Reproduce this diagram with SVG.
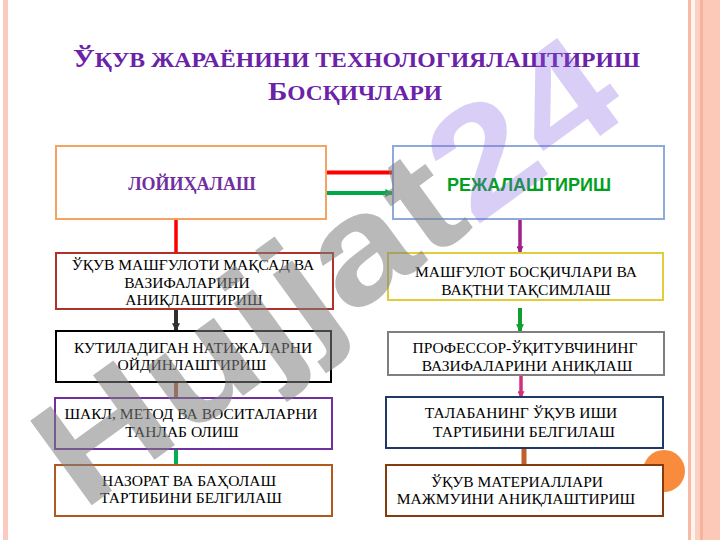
<svg xmlns="http://www.w3.org/2000/svg" width="720" height="540" viewBox="0 0 720 540">
<style>
.box{fill:#ffffff;stroke-width:2}
.t{font-family:"Liberation Serif","Times New Roman",serif;font-size:15.5px;fill:#000;text-anchor:middle}
.title{font-family:"Liberation Serif","Times New Roman",serif;font-weight:bold;fill:#6A22A8}
.c{fill:none;stroke-width:4}
</style>
<defs>
<marker id="ah" viewBox="0 0 6 6" refX="5" refY="3" markerWidth="2" markerHeight="2" orient="auto" markerUnits="strokeWidth"><path d="M0,0 L6,3 L0,6 z" fill="context-stroke"/></marker>
</defs>
<rect width="720" height="540" fill="#ffffff"/>
<g id="frame">
<rect x="3" y="0" width="5" height="540" fill="#FBC9BF"/>
<rect x="688" y="0" width="3" height="540" fill="#F9B9A6"/>
<rect x="691" y="0" width="4" height="540" fill="#FFF5EC"/>
<rect x="695" y="0" width="5" height="540" fill="#FCD0C2"/>
<rect x="700" y="0" width="3" height="540" fill="#F7B39C"/>
<rect x="703" y="0" width="17" height="540" fill="#FCC8B8"/>
</g>
<g id="title">
<text class="title" x="73" y="67" textLength="567" lengthAdjust="spacingAndGlyphs"><tspan font-size="25">Ў</tspan><tspan font-size="20">ҚУВ ЖАРАЁНИНИ ТЕХНОЛОГИЯЛАШТИРИШ</tspan></text>
<text class="title" x="268" y="100" textLength="174" lengthAdjust="spacingAndGlyphs"><tspan font-size="25">Б</tspan><tspan font-size="20">ОСҚИЧЛАРИ</tspan></text>
</g>
<circle id="deco" cx="664" cy="471" r="21" fill="#F98B3D"/>
<g id="connectors">
<line class="c" x1="327" y1="172.5" x2="393" y2="172.5" stroke="#FF0000"/>
<line class="c" x1="327" y1="193" x2="392" y2="193" stroke="#00A84A" marker-end="url(#ah)"/>
<line x1="176" y1="219" x2="176" y2="253" stroke="#FF0000" stroke-width="3.5"/>
<line class="c" x1="176" y1="309" x2="176" y2="330" stroke="#303030" marker-end="url(#ah)"/>
<line class="c" x1="176" y1="382" x2="176" y2="398" stroke="#B5603A"/>
<line class="c" x1="176" y1="449" x2="176" y2="465" stroke="#00B050"/>
<line x1="520" y1="219" x2="520" y2="252" stroke="#A0208A" stroke-width="3.5" marker-end="url(#ah)"/>
<line class="c" x1="520" y1="308" x2="520" y2="331" stroke="#109E2E" marker-end="url(#ah)"/>
<line x1="521" y1="375" x2="521" y2="397" stroke="#D0307A" stroke-width="3.5" marker-end="url(#ah)"/>
<line x1="524" y1="448" x2="524" y2="465" stroke="#C0602A" stroke-width="5"/>
</g>
<g id="n1">
<rect class="box" x="56" y="146" width="270" height="73" stroke="#F4A460"/>
<text x="192" y="190" font-family="'Liberation Serif','Times New Roman',serif" font-weight="bold" font-size="18" fill="#7030A0" text-anchor="middle">ЛОЙИҲАЛАШ</text>
</g>
<g id="n2">
<rect class="box" x="393" y="146" width="271" height="73" stroke="#8EA9DB"/>
<text x="529" y="191" font-family="'Liberation Sans',Arial,sans-serif" font-weight="bold" font-size="18" fill="#00A020" text-anchor="middle">РЕЖАЛАШТИРИШ</text>
</g>
<g id="n3">
<rect class="box" x="56" y="253" width="277" height="56" stroke="#B0302A"/>
<text class="t" x="193" y="270">ЎҚУВ МАШҒУЛОТИ МАҚСАД ВА</text>
<text class="t" x="187" y="288">ВАЗИФАЛАРИНИ</text>
<text class="t" x="194" y="305">АНИҚЛАШТИРИШ</text>
</g>
<g id="n4">
<rect class="box" x="56" y="331" width="275" height="51" stroke="#000000"/>
<text class="t" x="193" y="353">КУТИЛАДИГАН НАТИЖАЛАРНИ</text>
<text class="t" x="192" y="370">ОЙДИНЛАШТИРИШ</text>
</g>
<g id="n5">
<rect class="box" x="55" y="398" width="277" height="51" stroke="#7030A0"/>
<text class="t" x="191" y="419">ШАКЛ, МЕТОД ВА ВОСИТАЛАРНИ</text>
<text class="t" x="182" y="437">ТАНЛАБ ОЛИШ</text>
</g>
<g id="n6">
<rect class="box" x="55" y="465" width="277" height="51" stroke="#B05A20"/>
<text class="t" x="189" y="486">НАЗОРАТ ВА БАҲОЛАШ</text>
<text class="t" x="191" y="503">ТАРТИБИНИ БЕЛГИЛАШ</text>
</g>
<g id="n7">
<rect class="box" x="388" y="253" width="275" height="47" stroke="#E2CC3A"/>
<text class="t" x="526" y="277">МАШҒУЛОТ БОСҚИЧЛАРИ ВА</text>
<text class="t" x="526" y="295">ВАҚТНИ ТАҚСИМЛАШ</text>
</g>
<g id="n8">
<rect class="box" x="388" y="332" width="276" height="43" stroke="#7F7F7F"/>
<text class="t" x="525" y="353">ПРОФЕССОР-ЎҚИТУВЧИНИНГ</text>
<text class="t" x="527" y="371">ВАЗИФАЛАРИНИ АНИҚЛАШ</text>
</g>
<g id="n9">
<rect class="box" x="386" y="397" width="277" height="51" stroke="#1F3864"/>
<text class="t" x="521" y="418">ТАЛАБАНИНГ ЎҚУВ ИШИ</text>
<text class="t" x="524" y="437">ТАРТИБИНИ БЕЛГИЛАШ</text>
</g>
<g id="n10">
<rect class="box" x="386" y="465" width="277" height="51" stroke="#843C0C"/>
<text class="t" x="517" y="487">ЎҚУВ МАТЕРИАЛЛАРИ</text>
<text class="t" x="516" y="504">МАЖМУИНИ АНИҚЛАШТИРИШ</text>
</g>
<g id="watermark" transform="translate(325,268) rotate(-36)" font-family="'Liberation Sans',Arial,sans-serif" font-weight="bold" font-size="152">
<text x="0" y="55" text-anchor="middle" textLength="680" lengthAdjust="spacingAndGlyphs"><tspan fill="#808080" fill-opacity="0.55">Hujjat</tspan><tspan fill="#8060E0" fill-opacity="0.3">24</tspan></text>
</g>
</svg>
